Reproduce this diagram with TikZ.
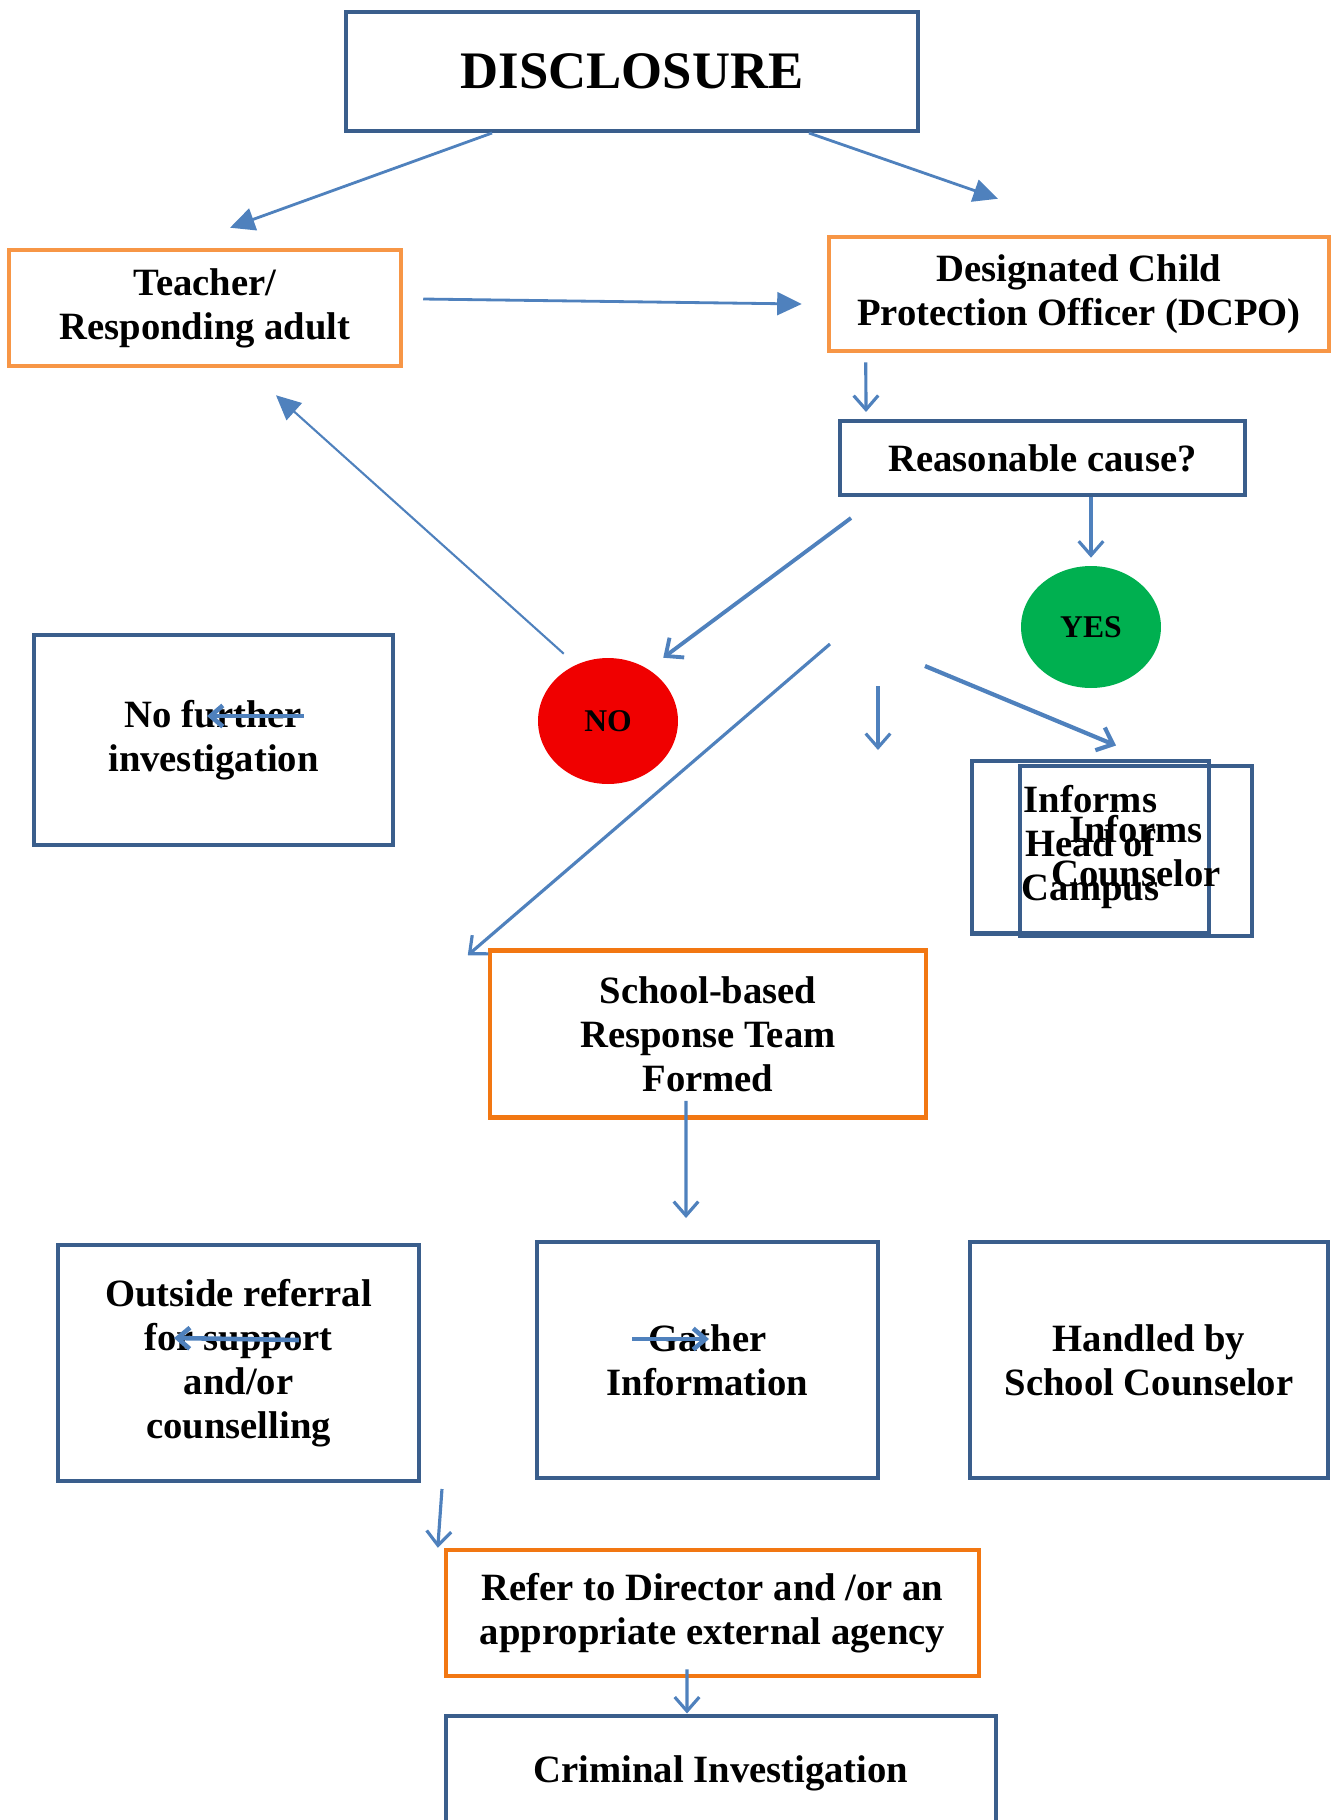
\documentclass[tikz,border=0pt]{standalone}
\usepackage{fontspec}
\setmainfont{Liberation Serif}
\usetikzlibrary{arrows.meta,shapes.geometric}
\definecolor{LineBox}{RGB}{58,94,140}
\definecolor{LineArr}{RGB}{79,129,189}
\definecolor{EdgeOrange}{RGB}{247,150,70}
\definecolor{EdgeDeep}{RGB}{242,119,18}
\definecolor{FillNo}{RGB}{240,0,0}
\definecolor{FillYes}{RGB}{0,176,80}

\begin{document}
\begin{tikzpicture}[
    x=0.02cm, y=-0.02cm,
    box/.style={draw=LineBox, line width=2.3pt, align=center, font=\fontsize{22}{25}\selectfont\bfseries},
    role/.style={box, draw=EdgeOrange, line width=2.6pt},
    deep/.style={box, draw=EdgeDeep, line width=2.6pt},
    answer/.style={ellipse, minimum width=2.8cm, font=\fontsize{18}{20}\selectfont\bfseries},
    bigarr/.style={-{Triangle[length=14pt,width=13pt]}, LineArr, line width=1.6pt},
    arr/.style={-{Straight Barb[length=8pt,width=14pt]}, LineArr, line width=1.8pt},
    inarr/.style={-{Straight Barb[length=7pt,width=12pt]}, LineArr, line width=2.6pt}
]
\useasboundingbox (0,0) rectangle (1331,1820);

%% ---- TOP ----
\node[box, minimum width=11.44cm, minimum height=2.38cm, font=\fontsize{30}{34}\selectfont\bfseries] (disc) at (632,71.5) {DISCLOSURE};
\node[role, minimum width=7.84cm, minimum height=2.32cm] (teacher) at (205,308) {Teacher/\\Responding adult};
\node[role, minimum width=10cm, minimum height=2.28cm] (dcpo) at (1079,294) {Designated Child\\Protection Officer (DCPO)};
\node[box, minimum width=8.1cm, minimum height=1.48cm] (cause) at (1042.5,458) {Reasonable cause?};

%% ---- DECISION ----
\node[answer, fill=FillYes, minimum height=2.44cm] (yes) at (1091,627) {YES};
\node[answer, fill=FillNo, minimum height=2.52cm] (no) at (608,721) {NO};
\node[box, minimum width=7.18cm, minimum height=4.2cm] (stop) at (213.5,740) {No further\\investigation};
\node[box, minimum width=4.74cm, minimum height=3.46cm] (head) at (1090.5,847) {Informs\\Head of\\Campus};
\node[box, minimum width=4.64cm, minimum height=3.4cm] (counsel) at (1136,851) {Informs\\Counselor};

%% ---- RESPONSE ----
\node[deep, minimum width=8.72cm, minimum height=3.34cm] (team) at (708,1034) {School-based\\Response Team\\Formed};
\node[box, minimum width=7.22cm, minimum height=4.72cm] (outside) at (238.5,1363) {Outside referral\\for support\\and/or\\counselling};
\node[box, minimum width=6.82cm, minimum height=4.72cm] (gather) at (707.5,1360) {Gather\\Information};
\node[box, minimum width=7.16cm, minimum height=4.72cm] (handled) at (1149,1360) {Handled by\\School Counselor};
\node[deep, minimum width=10.66cm, minimum height=2.52cm] (refer) at (712.5,1613) {Refer to Director and /or an\\appropriate external agency};
\node[box, minimum width=11cm, minimum height=2.3cm] (crim) at (721,1773) {Criminal Investigation};

%% ---- free ends ----
\coordinate (forkA) at (830,644);
\coordinate (forkB) at (878,686);
\coordinate (forkBend) at (878,750);
\coordinate (forkC) at (925,666);

%% ---- ARROWS ----
\draw[bigarr] ([xshift=-2.8cm]disc.south) -- ([xshift=0.5cm,yshift=0.4cm]teacher.north);
\draw[bigarr] ([xshift=3.54cm]disc.south) -- ([xshift=-1.62cm,yshift=0.72cm]dcpo.north);
\draw[bigarr] ([xshift=0.4cm,yshift=0.18cm]teacher.east) -- ([xshift=-0.5cm,yshift=-0.2cm]dcpo.west);
\draw[arr] ([xshift=0.78cm,yshift=-0.18cm]dcpo.south west) -- ([xshift=0.56cm,yshift=0.14cm]cause.north west);
\draw[arr] (yes |- cause.south) -- ([yshift=0.16cm]yes.north);
\draw[arr, line width=2.2pt] ([xshift=0.26cm,yshift=-0.42cm]cause.south west) -- ([xshift=0.11cm,yshift=0.37cm]no.north east);
\draw[bigarr, line width=1.2pt] ([xshift=0.11cm,yshift=0.45cm]no.north west) -- ([xshift=1.42cm,yshift=-0.54cm]teacher.south);
\draw[arr] (forkA) -- ([xshift=-0.4cm,yshift=-0.14cm]team.north west);
\draw[arr] (forkB) -- (forkBend);
\draw[arr, line width=2.4pt] (forkC) -- ([xshift=0.51cm,yshift=0.26cm]head.north);
\draw[arr] ([xshift=-0.44cm,yshift=0.38cm]team.south) -- ([xshift=-0.43cm,yshift=0.44cm]gather.north);
\draw[arr] ([xshift=0.42cm,yshift=-0.12cm]outside.south east) -- ([xshift=-0.12cm]refer.north west);
\draw[arr] ([xshift=-0.51cm,yshift=0.18cm]refer.south) -- ([xshift=-0.68cm]crim.north);

%% ---- arrows over text ----
\draw[inarr] ([xshift=1.81cm,yshift=0.48cm]stop.center) -- ([xshift=-0.13cm,yshift=0.48cm]stop.center);
\draw[inarr] ([xshift=1.21cm,yshift=0.46cm]outside.center) -- ([xshift=-1.29cm,yshift=0.5cm]outside.center);
\draw[inarr] ([xshift=-1.51cm,yshift=0.42cm]gather.center) -- ([xshift=0.03cm,yshift=0.42cm]gather.center);

\end{tikzpicture}
\end{document}
